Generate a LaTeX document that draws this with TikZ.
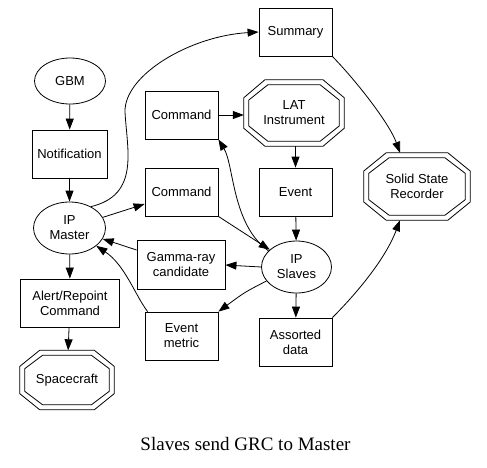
\documentclass[tikz,border=0pt]{standalone}
\usepackage{fontspec}
\setmainfont{Liberation Sans}
\newfontfamily\capfont{Liberation Serif}
\usetikzlibrary{shapes.geometric,arrows.meta,calc}
\tikzset{
  base/.style={inner sep=0pt, align=center, font=\fontsize{13}{15}\selectfont},
  box/.style={base, draw, rectangle, line width=0.8pt, minimum width=#1, minimum height=48pt},
  box/.default=73pt,
  ell/.style={base, draw, ellipse, line width=0.8pt, minimum width=71pt, minimum height=#1},
  octo/.style 2 args={base, rectangle, minimum width=#1, minimum height=#2},
  link/.style={line width=0.8pt, -{Triangle[length=11pt,width=8pt]}},
}
\newcommand\dbloct[1]{%
  \foreach \d in {0,5}{%
    \draw[line width=0.8pt] let \p1=($(#1.north west)+(\d pt,-\d pt)$),
      \p2=($(#1.south east)+(-\d pt,\d pt)$),
      \n1={0.21*(\x2-\x1)}, \n2={0.27*(\y1-\y2)} in
      ({\x1+\n1},\y1) -- ({\x2-\n1},\y1) -- (\x2,{\y1-\n2}) -- (\x2,{\y2+\n2})
      -- ({\x2-\n1},\y2) -- ({\x1+\n1},\y2) -- (\x1,{\y2+\n2}) -- (\x1,{\y1-\n2}) -- cycle;
  }}
\begin{document}
\begin{tikzpicture}[x=1pt,y=-1pt]
\useasboundingbox (0,0) rectangle (487,467);
% nodes
\node[ell=46pt] (gbm) at (70,81) {GBM};
\node[box=75pt] (notif) at (69.5,154) {Notification};
\node[ell=52pt, minimum width=72pt] (master) at (69.5,228) {IP\\Master};
\node[box=99pt] (alert) at (70,303) {Alert/Repoint\\Command};
\node[octo={94pt}{59pt}] (space) at (67,380) {Spacecraft};
\node[box] (cmdA) at (181.5,115) {Command};
\node[box] (cmdB) at (181.5,192) {Command};
\node[box] (summary) at (295.5,32) {Summary};
\node[octo={100pt}{66pt}] (lat) at (294,113) {LAT\\Instrument};
\node[box] (event) at (295.5,192) {Event};
\node[octo={106pt}{67pt}] (ssr) at (417,186.5) {Solid State\\Recorder};
\node[ell=52pt, minimum width=70pt] (slaves) at (296.5,267) {IP\\Slaves};
\node[box=88pt, minimum height=49pt] (grc) at (181,265) {Gamma-ray\\candidate};
\node[box] (em) at (181.5,336) {Event\\metric};
\node[box] (assorted) at (295.5,342) {Assorted\\data};
\node[inner sep=0pt, font=\capfont\fontsize{19}{22}\selectfont] (caption) at (245.5,444) {Slaves send GRC to Master};
\dbloct{space}
\dbloct{lat}
\dbloct{ssr}
% edges
\draw[link] (gbm) -- (notif);
\draw[link] (notif) -- (master);
\draw[link] (master) -- (alert);
\draw[link] (alert) -- (space);
\draw[link] (master.45) .. controls (140,195) and (127,150) .. (125,112)
  .. controls (124,75) and (190,36) .. (summary.west);
\draw[link] (master) -- ([yshift=-12pt]cmdB.west);
\draw[link] (cmdA) -- (lat.west |- cmdA);
\draw[link] (lat.south -| event) -- (event);
\draw[link] (event) -- (slaves);
\draw[link] (summary.south east) .. controls (360,85) and (390,125) .. ([xshift=-17pt]ssr.north);
\draw[link] (assorted.north east) .. controls (355,295) and (385,260) .. ([xshift=-17pt]ssr.south);
\draw[link] (slaves) -- (assorted);
\draw[link] (slaves.west) -- (grc.east);
\draw[link] (slaves.205) .. controls (245,292) .. (em.north east);
\draw[link] ([yshift=15pt]grc.west) -- (master);
\draw[link] ([xshift=3pt]em.north west) .. controls (135,295) and (125,265) .. (master);
\draw[link] (cmdB.south east) -- (slaves);
\draw[link] (slaves.150) .. controls (232,225) and (234,165) .. (cmdA.south east);
\end{tikzpicture}
\end{document}
